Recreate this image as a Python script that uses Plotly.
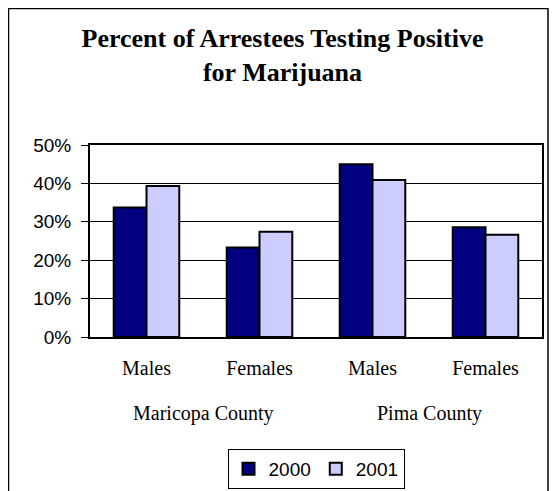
import plotly.graph_objects as go

categories = ["Males", "Females", "Males", "Females"]
counties = ["Maricopa County", "Pima County"]
years = ["2000", "2001"]
values_2000 = [0.337, 0.233, 0.450, 0.286]
values_2001 = [0.393, 0.274, 0.409, 0.266]
y_ticks = [0, 0.1, 0.2, 0.3, 0.4, 0.5]

OFF = 8  # browser default body margin
W, H = 557 - OFF, 491 - OFF
L, R, T, B = 90 - OFF, 15, 145 - OFF, 154
pw, ph = W - L - R, H - T - B

x_idx = list(range(len(categories)))
colors = ["#000080", "#CCCCFF"]

fig = go.Figure()
for name, vals, col in zip(years, [values_2000, values_2001], colors):
    fig.add_trace(go.Bar(
        x=x_idx, y=vals, name=name,
        marker=dict(color=col, line=dict(color="black", width=2)),
    ))

# page pixel -> paper coordinates
def px_x(p):
    return (p - OFF - L) / pw

def px_y(p):
    return (H - B - (p - OFF)) / ph

annotations = []
for gi, county in enumerate(counties):
    annotations.append(dict(
        text=county, xref="x", x=gi * 2 + 0.5, yref="paper", y=px_y(413),
        yanchor="middle", xanchor="center", showarrow=False,
        font=dict(family="Liberation Serif", size=20, color="black"),
    ))

fig.update_layout(
    width=W, height=H,
    margin=dict(l=L, r=R, t=T, b=B, autoexpand=False),
    paper_bgcolor="white", plot_bgcolor="white",
    barmode="group", bargap=0.42, bargroupgap=0,
    title=dict(
        text="Percent of Arrestees Testing Positive<br>for Marijuana",
        x=0.5, xref="container", xanchor="center",
        y=1 - 39 / H, yref="container", yanchor="middle",
        font=dict(family="Liberation Serif", size=26, color="black", weight="bold"),
    ),
    xaxis=dict(
        tickmode="array", tickvals=x_idx, ticktext=categories,
        range=[-0.5, len(categories) - 0.5],
        showline=True, linecolor="black", linewidth=2, mirror=True,
        ticks="", showgrid=False, zeroline=False,
        tickfont=dict(family="Liberation Serif", size=20, color="black"),
        ticklabelstandoff=12, automargin=False,
    ),
    yaxis=dict(
        range=[0, 0.5], tickvals=y_ticks, tickformat=".0%",
        showline=True, linecolor="black", linewidth=2, mirror=True,
        ticks="outside", ticklen=7, tickcolor="black", tickwidth=1,
        showgrid=True, gridcolor="black", gridwidth=1, zeroline=False,
        tickfont=dict(family="Liberation Sans", size=19, color="black"),
        ticklabelstandoff=6, automargin=False,
    ),
    legend=dict(
        orientation="h", x=px_x(316), xanchor="center", y=px_y(469), yanchor="middle",
        bordercolor="black", borderwidth=1, bgcolor="white",
        font=dict(family="Liberation Sans", size=19, color="black"),
        itemwidth=30, tracegroupgap=0,
    ),
    annotations=annotations,
    shapes=[dict(
        type="rect", xref="paper", yref="paper",
        x0=px_x(8.5), x1=px_x(548), y0=px_y(540), y1=px_y(8.5),
        line=dict(color="black", width=1.5),
    )],
)

fig.write_html("out.html")
